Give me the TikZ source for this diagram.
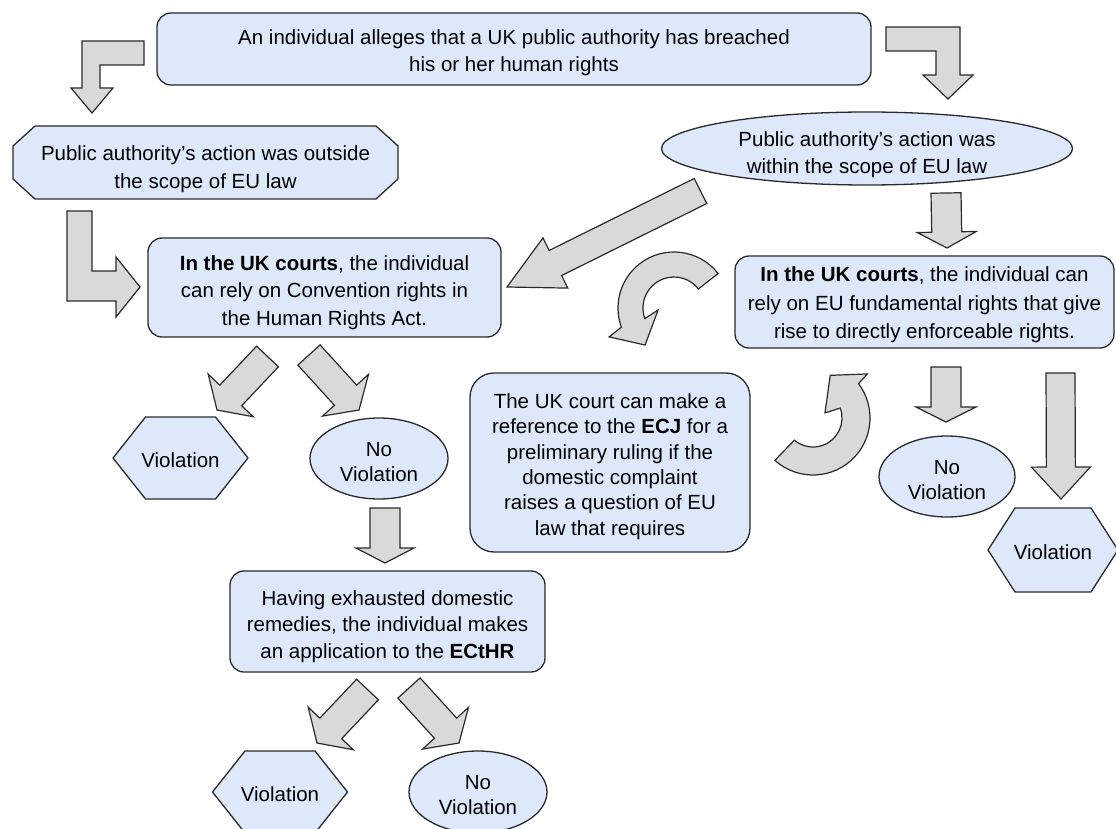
\documentclass[tikz,border=0pt]{standalone}
\usepackage{fontspec}
\setmainfont{Liberation Sans}
\usetikzlibrary{calc,shapes.geometric}
\definecolor{boxfill}{HTML}{DDE8FB}
\definecolor{arrfill}{HTML}{D9D9D9}
\definecolor{edgec}{HTML}{2A2A2A}
\tikzset{
  shp/.style={draw=edgec, line width=1.3pt, fill=boxfill, line join=round},
  txt/.style={align=center, inner sep=0pt, font=\fontsize{20.5}{27.5}\selectfont, text=black},
  rbox/.style={shp, rounded corners=14pt},
  oval/.style={shp, ellipse},
  blk/.style={draw=edgec, line width=1.2pt, fill=arrfill, line join=miter},
  nvtxt/.style={txt, font=\fontsize{20.5}{25}\selectfont},
}
\newcommand\barrow[5]{%
  \coordinate (bA) at (#1);
  \coordinate (bB) at (#2);
  \coordinate (bC) at ($(bB)!#5!(bA)$);
  \draw[blk] ($(bA)!#3!90:(bB)$) -- ($(bC)!#3!90:(bB)$) -- ($(bC)!#4!90:(bB)$) -- (bB)
     -- ($(bC)!#4!-90:(bB)$) -- ($(bC)!#3!-90:(bB)$) -- ($(bA)!#3!-90:(bB)$) -- cycle;
}
\newcommand\hexshape[4]{% center, half width, half top edge, half height
  \draw[shp] (#1) ++(-#2,0) -- ++({#2-#3},-#4) -- ++({2*#3},0) -- ++({#2-#3},#4)
     -- ++({#3-#2},#4) -- ++({-2*#3},0) -- cycle;
}
\begin{document}
\begin{tikzpicture}[x=1pt,y=-1pt]
\useasboundingbox (0,0) rectangle (1116,829);

% ---------- nodes ----------
\node[rbox, minimum width=714pt, minimum height=72pt] (top) at (514,49) {};
\node[txt] (topT) at ($(top)+(0,3.5)$)
  {An individual alleges that a UK public authority has breached\\his or her human rights};

\draw[shp] (13,146) -- (35,126) -- (376,126) -- (398,146) -- (398,179) -- (376,199) -- (35,199) -- (13,179) -- cycle;
\node[txt] (outside) at (205.5,169) {Public authority’s action was outside\\the scope of EU law};

\node[oval, minimum width=411pt, minimum height=73pt] (within) at (867,148.5) {};
\node[txt] (withinT) at ($(within)+(0,6)$) {Public authority’s action was\\within the scope of EU law};

\node[rbox, minimum width=353pt, minimum height=99pt] (hra) at (324.5,287.5) {};
\node[txt] (hraT) at ($(hra)+(0,5)$)
  {\textbf{In the UK courts}, the individual\\can rely on Convention rights in\\the Human Rights Act.};

\node[rbox, minimum width=379pt, minimum height=92pt] (eur) at (924.5,302) {};
\node[txt, font=\fontsize{20.5}{28.5}\selectfont] (eurT) at ($(eur)+(0,3)$)
  {\textbf{In the UK courts}, the individual can\\rely on EU fundamental rights that give\\rise to directly enforceable rights.};

\node[rbox, rounded corners=24pt, minimum width=280pt, minimum height=179pt] (ecj) at (610,462.5) {};
\node[txt, font=\fontsize{20.5}{25.4}\selectfont] (ecjT) at ($(ecj)+(0,4)$)
  {The UK court can make a\\reference to the \textbf{ECJ} for a\\preliminary ruling if the\\domestic complaint\\raises a question of EU\\law that requires};

\node[rbox, minimum width=315pt, minimum height=101pt] (echr) at (387.5,621.5) {};
\node[txt, font=\fontsize{20.5}{26.5}\selectfont] (echrT) at ($(echr)+(0,5)$)
  {Having exhausted domestic\\remedies, the individual makes\\an application to the \textbf{ECtHR}};

\hexshape{180.5,458}{67.5}{35}{41}
\node[txt] (viol1) at (180.5,460) {Violation};
\node[oval, minimum width=138pt, minimum height=81pt] (nov1) at (379,458.5) {};
\node[nvtxt] (nov1T) at ($(nov1)+(0,3.5)$) {No\\Violation};

\hexshape{280,792}{67.5}{35}{41}
\node[txt] (viol2) at (280,794) {Violation};
\node[oval, minimum width=138pt, minimum height=82pt] (nov2) at (478,792) {};
\node[nvtxt] (nov2T) at ($(nov2)+(0,3.5)$) {No\\Violation};

\hexshape{1053,550}{65}{38}{42}
\node[txt] (viol3) at (1053,552) {Violation};
\node[oval, minimum width=136pt, minimum height=81pt] (nov3) at (947,476.5) {};
\node[nvtxt] (nov3T) at ($(nov3)+(0,3.5)$) {No\\Violation};

% ---------- bent arrows ----------
\draw[blk] (144,41) -- (82,41) -- (82,88) -- (71,88) -- (92,113) -- (113,88) -- (100,88) -- (100,65) -- (144,65) -- cycle;
\draw[blk] (886,27) -- (960,27) -- (960,75) -- (973,75) -- (948,99) -- (923,75) -- (936,75) -- (936,51) -- (886,51) -- cycle;
\draw[blk] (67,211) -- (92,211) -- (92,271) -- (116,271) -- (116,257) -- (140,287) -- (116,317) -- (116,301) -- (67,301) -- cycle;

% ---------- straight block arrows ----------
\coordinate (t1) at (946,193);   \coordinate (h1) at (947,248);
\coordinate (t2) at (700.5,191); \coordinate (h2) at (507,287);
\coordinate (t3) at (267.5,356.5); \coordinate (h3) at (217,410);
\coordinate (t4) at (309,355);   \coordinate (h4) at (359,410);
\coordinate (t5) at (385,508);   \coordinate (h5) at (385,563);
\coordinate (t6) at (367.5,689.5); \coordinate (h6) at (317,743);
\coordinate (t7) at (409,688);   \coordinate (h7) at (459,743);
\coordinate (t8) at (946,367);   \coordinate (h8) at (946,422);
\coordinate (t9) at (1060.5,373); \coordinate (h9) at (1061,499);
\barrow{t1}{h1}{15pt}{29.5pt}{16pt}
\barrow{t2}{h2}{14pt}{28pt}{54pt}
\barrow{t3}{h3}{15pt}{31pt}{20pt}
\barrow{t4}{h4}{15pt}{31pt}{20pt}
\barrow{t5}{h5}{15pt}{29pt}{15pt}
\barrow{t6}{h6}{15pt}{31pt}{20pt}
\barrow{t7}{h7}{15pt}{31pt}{20pt}
\barrow{t8}{h8}{15pt}{30pt}{15pt}
\barrow{t9}{h9}{14.5pt}{29.5pt}{32pt}

% ---------- curved arrows ----------
\coordinate (cu) at (674,308);
\draw[blk] ($(cu)+(38:56pt)$) arc[start angle=38, end angle=200, radius=56pt]
  -- ($(cu)+(204:71pt)$) -- ($(cu)+(232:47pt)$) -- ($(cu)+(187:16pt)$)
  -- ($(cu)+(200:31pt)$) arc[start angle=200, end angle=38, radius=31pt] -- cycle;
\coordinate (cl) at (813,418);
\draw[blk] ($(cl)+(228:57pt)$) arc[start angle=228, end angle=397, radius=57pt]
  -- ($(cl)+(399:70pt)$) -- ($(cl)+(428:46pt)$) -- ($(cl)+(383:13pt)$)
  -- ($(cl)+(380:29pt)$) arc[start angle=380, end angle=230, radius=29pt] -- cycle;
\end{tikzpicture}
\end{document}
